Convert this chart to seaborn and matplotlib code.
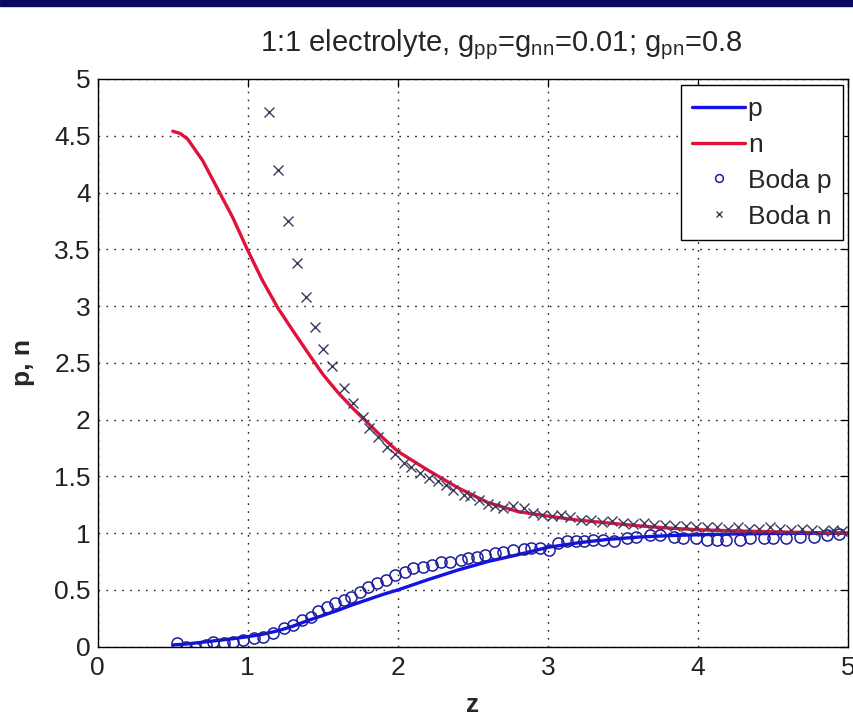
import pandas as pd
import seaborn as sns
import matplotlib.pyplot as plt
from matplotlib.patches import Rectangle

# model curves
z_line = [0.5, 0.55, 0.6, 0.7, 0.8, 0.9, 1.0, 1.1, 1.2, 1.3, 1.4, 1.5, 1.6, 1.7,
          1.8, 1.9, 2.0, 2.2, 2.4, 2.6, 2.8, 3.0, 3.2, 3.4, 3.6, 3.8, 4.0, 4.25,
          4.5, 4.75, 5.0]
p_line = [0.015, 0.02, 0.025, 0.04, 0.055, 0.07, 0.088, 0.11, 0.14, 0.18, 0.23,
          0.275, 0.32, 0.37, 0.415, 0.46, 0.5, 0.59, 0.675, 0.75, 0.81, 0.875,
          0.915, 0.945, 0.965, 0.978, 0.986, 0.993, 0.997, 0.999, 1.0]
n_line = [4.54, 4.52, 4.47, 4.28, 4.03, 3.78, 3.49, 3.22, 2.985, 2.785, 2.59,
          2.40, 2.24, 2.10, 1.97, 1.84, 1.72, 1.555, 1.40, 1.27, 1.19, 1.15,
          1.115, 1.09, 1.065, 1.045, 1.03, 1.02, 1.012, 1.005, 1.0]

# Boda simulation points
boda_p_z = [0.53, 0.59, 0.65, 0.72, 0.77, 0.84, 0.90, 0.97, 1.04, 1.10,
            1.17, 1.24, 1.30, 1.36, 1.42, 1.47, 1.53, 1.58, 1.64, 1.69,
            1.75, 1.80, 1.86, 1.92, 1.98, 2.05, 2.10, 2.17, 2.23, 2.29,
            2.35, 2.42, 2.47, 2.53, 2.58, 2.65, 2.70, 2.77, 2.84, 2.89,
            2.95, 3.01, 3.07, 3.13, 3.19, 3.24, 3.30, 3.37, 3.44, 3.53,
            3.59, 3.68, 3.75, 3.84, 3.90, 3.99, 4.06, 4.13, 4.19, 4.28,
            4.35, 4.44, 4.50, 4.59, 4.68, 4.77, 4.86, 4.94]
boda_p = [0.03, 0.0, -0.015, 0.015, 0.044, 0.03, 0.044, 0.059, 0.074, 0.088,
          0.118, 0.162, 0.19, 0.235, 0.265, 0.31, 0.353, 0.383, 0.412, 0.441,
          0.485, 0.53, 0.56, 0.589, 0.633, 0.662, 0.692, 0.706, 0.721, 0.75,
          0.75, 0.765, 0.78, 0.794, 0.809, 0.824, 0.838, 0.853, 0.86, 0.868,
          0.868, 0.853, 0.913, 0.927, 0.927, 0.935, 0.94, 0.94, 0.927, 0.957,
          0.97, 0.986, 0.986, 0.97, 0.957, 0.957, 0.94, 0.94, 0.94, 0.94,
          0.957, 0.957, 0.957, 0.957, 0.97, 0.97, 0.986, 0.99]
boda_n_z = [1.14, 1.20, 1.27, 1.33, 1.39, 1.45, 1.50, 1.56, 1.64, 1.70,
            1.77, 1.81, 1.87, 1.93, 1.98, 2.04, 2.09, 2.15, 2.21, 2.27,
            2.32, 2.37, 2.44, 2.48, 2.54, 2.60, 2.65, 2.70, 2.77, 2.84,
            2.90, 2.96, 3.03, 3.09, 3.15, 3.22, 3.29, 3.36, 3.43, 3.50,
            3.57, 3.64, 3.71, 3.78, 3.85, 3.92, 3.99, 4.06, 4.13, 4.20,
            4.27, 4.34, 4.41, 4.48, 4.55, 4.62, 4.69, 4.76, 4.83, 4.90,
            4.96]
boda_n = [4.71, 4.20, 3.75, 3.38, 3.08, 2.82, 2.62, 2.47, 2.28, 2.15,
          2.02, 1.93, 1.85, 1.76, 1.70, 1.62, 1.58, 1.53, 1.49, 1.456,
          1.427, 1.383, 1.34, 1.324, 1.295, 1.26, 1.236, 1.22, 1.236, 1.22,
          1.18, 1.16, 1.15, 1.16, 1.14, 1.12, 1.12, 1.10, 1.11, 1.09,
          1.08, 1.09, 1.07, 1.07, 1.06, 1.06, 1.05, 1.05, 1.05, 1.04,
          1.05, 1.04, 1.04, 1.05, 1.04, 1.03, 1.04, 1.03, 1.02, 1.03,
          1.02]

x_ticks = [0, 1, 2, 3, 4, 5]
y_ticks = [0, 0.5, 1, 1.5, 2, 2.5, 3, 3.5, 4, 4.5, 5]
y_ticklabels = ['0', '0.5', '1', '1.5', '2', '2.5', '3', '3.5', '4', '4.5', '5']

sns.set_theme(style="white")
plt.rcParams['font.family'] = ['Liberation Sans', 'DejaVu Sans']

fig = plt.figure(figsize=(8.54, 7.22), dpi=100)
ax = fig.add_axes([0.1144, 0.1043, 0.8786, 0.7863])

sns.lineplot(x=z_line, y=p_line, color='#1212e6', lw=2.4, estimator=None,
             sort=False, label='p', ax=ax)
sns.lineplot(x=z_line, y=n_line, color='#e0123c', lw=2.4, estimator=None,
             sort=False, label='n', ax=ax)
sns.lineplot(x=boda_p_z, y=boda_p, marker='o', linestyle='', markersize=8,
             markerfacecolor='none', markeredgecolor='#1c1c9c',
             markeredgewidth=1.1, color='#1c1c9c', estimator=None, sort=False,
             label='Boda p', ax=ax)
sns.lineplot(x=boda_n_z, y=boda_n, marker='x', linestyle='', markersize=7,
             markeredgecolor='#3c3c5c', markeredgewidth=1.0, color='#3c3c5c',
             estimator=None, sort=False, label='Boda n', ax=ax)

ax.set_xlim(0, 5)
ax.set_ylim(0, 5)
ax.set_xticks(x_ticks)
ax.set_xticklabels([str(t) for t in x_ticks])
ax.set_yticks(y_ticks)
ax.set_yticklabels(y_ticklabels)

ax.grid(True, color='#222222', linestyle=(0, (1.2, 4.5)), linewidth=1.0)
for sp in ax.spines.values():
    sp.set_visible(True)
    sp.set_color('black')
    sp.set_linewidth(1.0)
ax.tick_params(direction='in', top=True, right=True, length=6, width=0.9,
               color='black', labelsize=19, labelcolor='#222222')
ax.tick_params(axis='x', pad=7)
ax.tick_params(axis='y', pad=5)

ax.set_xlabel('z', fontsize=19, fontweight='bold', labelpad=9)
ax.set_ylabel('p, n', fontsize=19, fontweight='bold', labelpad=14)
ax.set_title(r'1:1 electrolyte, $\mathregular{g_{pp}}$=$\mathregular{g_{nn}}$=0.01; '
             r'$\mathregular{g_{pn}}$=0.8', fontsize=21, x=0.5375, pad=20)

leg = ax.legend(loc='upper right', bbox_to_anchor=(0.9937, 0.9894),
                borderaxespad=0, fontsize=19, frameon=True, fancybox=False,
                framealpha=1, edgecolor='black', handlelength=2.0,
                handletextpad=0.1, labelspacing=0.45, borderpad=0.45,
                markerscale=0.7)
leg.get_frame().set_linewidth(1.0)

# dark band across the top of the slide
fig.add_artist(Rectangle((0, 1 - 6 / 722), 1, 6 / 722, transform=fig.transFigure,
                         color='#0a0a60', zorder=10))

fig.savefig('out.png', dpi=100)
